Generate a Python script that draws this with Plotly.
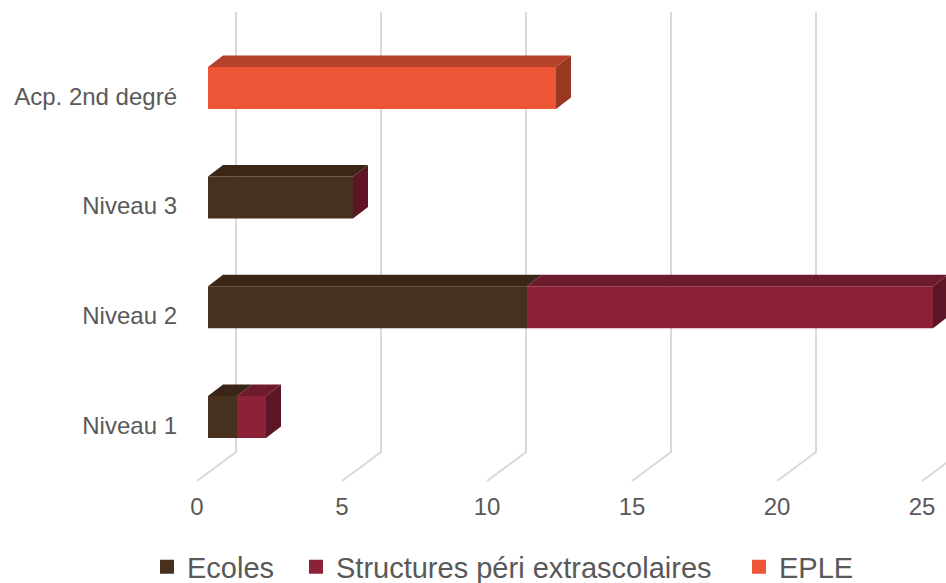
import plotly.graph_objects as go

# ---------------- data ----------------
categories = ["Niveau 1", "Niveau 2", "Niveau 3", "Acp. 2nd degré"]
# None = empty cell, 0 = explicit zero
ecoles = [1, 11, 5, None]
structures = [1, 14, 0, None]
eple = [None, None, None, 12]
x_ticks = [0, 5, 10, 15, 20, 25]

series_names = ["Ecoles", "Structures péri extrascolaires", "EPLE"]
front_colors = ["#48301F", "#8C2238", "#EC5535"]
top_colors = ["#3A2517", "#6F1B2E", "#B6412A"]
side_colors = ["#2E1C11", "#5E1526", "#993820"]

# ---------------- projection (pixels -> data units) ----------------
PX_X = 29.0      # pixels per x unit
PX_Y = 109.7     # pixels per category step
FRONT_DX, FRONT_DY = 11 / PX_X, 8.2 / PX_Y     # bar front plane vs floor front
BAR_DX, BAR_DY = 15 / PX_X, 11.5 / PX_Y        # bar depth
WALL_DX, WALL_DY = 39 / PX_X, 29 / PX_Y        # floor depth
BAR_H = 42 / PX_Y
FLOOR_FRONT_Y = -(481 - 425.2) / PX_Y
TOP_Y = (425.2 - 12) / PX_Y

fig = go.Figure()

values = [ecoles, structures, eple]
ncat = len(categories)
cum = [0.0] * ncat
bases = []
for s in values:
    bases.append(list(cum))
    cum = [c + (v or 0) for c, v in zip(cum, s)]

# last non-empty series per category (its side face is the visible one)
last_series = []
for i in range(ncat):
    last = 0
    for k, s in enumerate(values):
        if s[i] is not None:
            last = k
    last_series.append(last)

legend_ids = ["legend", "legend2", "legend3"]

# front faces
for k, s in enumerate(values):
    fig.add_trace(go.Bar(
        orientation="h",
        y=[i + FRONT_DY for i in range(ncat)],
        x=[v or 0 for v in s],
        base=[b + FRONT_DX for b in bases[k]],
        width=BAR_H,
        marker=dict(color=front_colors[k], line=dict(width=0)),
        name=series_names[k],
        showlegend=False,
        hoverinfo="skip",
    ))

# legend entries (square swatches)
for k in range(len(values)):
    fig.add_trace(go.Scatter(
        x=[None], y=[None], mode="markers",
        marker=dict(symbol="square", size=14, color=front_colors[k]),
        name=series_names[k], legend=legend_ids[k], showlegend=True,
    ))

# top and side faces
for k, s in enumerate(values):
    for i, v in enumerate(s):
        if v is None:
            continue
        x0 = bases[k][i] + FRONT_DX
        x1 = x0 + v
        yc = i + FRONT_DY
        yt = yc + BAR_H / 2
        yb = yc - BAR_H / 2
        if v > 0:
            fig.add_trace(go.Scatter(
                x=[x0, x1, x1 + BAR_DX, x0 + BAR_DX, x0],
                y=[yt, yt, yt + BAR_DY, yt + BAR_DY, yt],
                fill="toself", fillcolor=top_colors[k], mode="none",
                showlegend=False, hoverinfo="skip",
            ))
        if k == last_series[i]:
            fig.add_trace(go.Scatter(
                x=[x1, x1 + BAR_DX, x1 + BAR_DX, x1, x1],
                y=[yb, yb + BAR_DY, yt + BAR_DY, yt, yb],
                fill="toself", fillcolor=side_colors[k], mode="none",
                showlegend=False, hoverinfo="skip",
            ))

# gridlines on back wall + floor
shapes = []
for v in x_ticks:
    path = "M {a},{b} L {c},{d} L {e},{f}".format(
        a=v + WALL_DX, b=TOP_Y,
        c=v + WALL_DX, d=FLOOR_FRONT_Y + WALL_DY,
        e=v, f=FLOOR_FRONT_Y)
    shapes.append(dict(type="path", path=path, xref="x", yref="y",
                       line=dict(color="#D9D9D9", width=2), layer="below"))

L, T, W, H = 186, 0, 760, 490
def px_to_paper_x(px):
    return (px - L) / W
def px_to_paper_y(py):
    return (T + H - py) / H

text_starts = [185, 334, 777]
legend_font = dict(family="Liberation Sans, Arial, sans-serif", size=29, color="#595959")
legends = {}
for k, lid in enumerate(legend_ids):
    legends[lid] = dict(
        x=px_to_paper_x(text_starts[k] - 38), y=px_to_paper_y(567),
        xanchor="left", yanchor="middle", orientation="h",
        bgcolor="rgba(0,0,0,0)", font=legend_font,
    )

tick_font = dict(family="Liberation Sans, Arial, sans-serif", size=24, color="#595959")

fig.update_layout(
    width=946, height=583,
    margin=dict(l=L, r=946 - L - W, t=T, b=583 - T - H, pad=0, autoexpand=False),
    paper_bgcolor="white", plot_bgcolor="white",
    barmode="overlay",
    shapes=shapes,
    xaxis=dict(range=[(L - 197) / PX_X, (L + W - 197) / PX_X],
               tickvals=x_ticks, ticktext=[str(v) for v in x_ticks],
               showgrid=False, zeroline=False, showline=False, ticks="",
               tickfont=tick_font, fixedrange=True, automargin=False),
    yaxis=dict(range=[-(T + H - 425.2) / PX_Y, 3 + (425.2 - 3 * PX_Y - T) / PX_Y],
               tickvals=list(range(ncat)), ticktext=categories,
               showgrid=False, zeroline=False, showline=False, ticks="",
               ticklabelstandoff=8, automargin=False,
               tickfont=tick_font, fixedrange=True),
    **legends,
)

fig.write_html("out.html", config={"displayModeBar": False},
               post_script="document.body.style.margin='0';document.body.style.overflow='hidden';")
